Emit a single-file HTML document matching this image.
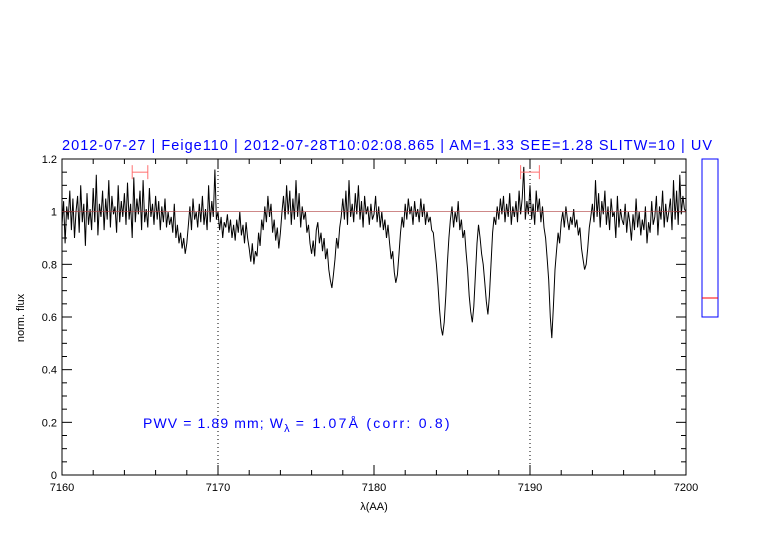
<!DOCTYPE html>
<html><head><meta charset="utf-8"><style>
body{margin:0;background:#fff;}
svg text{font-family:"Liberation Sans",sans-serif;}
</style></head><body>
<svg id="chart" width="782" height="542" xmlns="http://www.w3.org/2000/svg">
<text x="62" y="150" font-size="14.5" fill="#0000ff" textLength="650">2012-07-27 | Feige110 | 2012-07-28T10:02:08.865 | AM=1.33 SEE=1.28 SLITW=10 | UV</text>
<g id="axes"></g>
<g id="series"></g>
<text x="143" y="428" font-size="14" fill="#0000ff"><tspan textLength="140">PWV = 1.89 mm; W</tspan><tspan font-size="11" dy="4">λ</tspan><tspan dy="-4" textLength="160"> = 1.07Å (corr: 0.8)</tspan></text>
<text x="374" y="510" font-size="11" text-anchor="middle">λ(AA)</text>
<text x="24" y="318" font-size="11" text-anchor="middle" transform="rotate(-90 24 318)">norm. flux</text>
<rect x="702" y="159" width="16" height="158" fill="none" stroke="#0000ff" stroke-width="1"/>
<line x1="702" x2="718" y1="298" y2="298" stroke="#ff0000" stroke-width="1"/>
</svg>
<script>
const xTicks=[7160,7170,7180,7190,7200];
const yTicks=[0,0.2,0.4,0.6,0.8,1,1.2];
const yTickLabels=["0","0.2","0.4","0.6","0.8","1","1.2"];
const markerLines=[7170,7190];
const errorBars=[[7164.5,7165.5,1.15],[7189.4,7190.6,1.15]];
const waveStart=7160, waveStep=0.1;
const flux=[
0.95,1.04,0.88,1.02,0.97,1.08,0.93,1.05,0.90,1.00,
1.06,0.92,1.10,0.96,1.03,0.87,1.07,0.95,1.01,0.93,
1.09,0.96,1.14,0.91,1.03,0.98,1.08,0.93,1.05,0.97,
1.12,0.94,1.06,0.99,1.02,0.92,1.10,0.96,1.04,0.98,
1.07,0.95,1.11,0.97,1.03,0.90,1.13,0.96,1.05,0.99,
1.08,0.93,1.12,0.96,1.01,0.94,1.09,0.98,1.03,0.95,
1.06,0.97,1.04,0.93,1.02,0.96,1.05,0.94,1.00,0.95,
0.98,0.92,1.03,0.90,0.95,0.88,0.92,0.86,0.90,0.84,
0.88,0.95,1.02,0.93,1.05,0.97,1.00,0.94,1.03,0.96,
1.06,0.95,1.01,0.93,1.10,0.96,1.04,0.98,1.16,0.97,
1.00,0.93,0.98,0.90,0.96,0.94,0.99,0.92,0.97,0.90,
0.95,0.89,0.97,0.92,1.00,0.91,0.95,0.88,0.96,0.90,
0.86,0.81,0.88,0.80,0.85,0.83,0.92,0.87,0.97,0.93,
1.02,0.96,1.06,0.98,1.03,0.92,0.97,0.89,0.94,0.86,
0.92,1.00,1.06,0.97,1.10,0.99,1.08,0.95,1.05,0.97,
1.12,0.98,1.07,0.94,1.02,0.97,1.00,0.92,0.95,0.88,
0.84,0.89,0.83,0.93,0.96,0.88,0.92,0.85,0.90,0.82,
0.86,0.78,0.74,0.71,0.76,0.82,0.90,0.86,0.94,0.98,
1.05,0.97,1.08,0.95,1.12,0.98,1.03,0.96,1.07,0.99,
1.10,0.97,1.04,0.94,1.06,0.99,1.02,0.95,1.03,0.97,
0.99,1.06,0.96,1.02,0.94,1.00,0.93,0.97,0.90,0.95,
0.88,0.82,0.85,0.77,0.73,0.76,0.84,0.92,0.98,0.94,
1.03,0.97,1.05,0.99,1.02,0.95,1.04,0.98,1.01,0.96,
1.05,0.98,1.03,0.95,1.00,0.96,0.98,0.93,0.92,0.86,
0.80,0.72,0.63,0.56,0.53,0.58,0.68,0.80,0.90,0.97,
1.02,0.94,1.00,0.96,1.04,0.93,0.97,0.90,0.93,0.85,
0.78,0.68,0.62,0.58,0.64,0.76,0.88,0.95,0.90,0.84,
0.80,0.73,0.66,0.61,0.68,0.80,0.92,0.98,0.95,1.02,
0.97,1.05,0.99,1.06,0.96,1.03,0.98,1.07,0.95,1.02,
0.98,1.04,0.96,1.08,0.99,1.05,1.17,0.97,1.04,0.99,
1.10,0.97,1.03,0.95,1.08,1.00,1.05,0.96,1.02,0.94,
0.90,0.82,0.74,0.60,0.52,0.64,0.78,0.85,0.92,0.88,
0.96,1.00,0.94,1.02,0.97,0.93,0.98,0.95,1.01,0.94,
0.97,0.91,0.94,0.86,0.82,0.78,0.80,0.86,0.94,0.98,
1.03,0.96,1.12,0.98,1.07,0.94,1.04,0.99,1.08,0.95,
1.02,0.93,1.05,0.98,1.00,0.90,1.06,0.94,1.01,0.97,
0.95,1.03,0.92,1.00,0.96,0.89,0.99,0.93,1.05,0.94,
1.00,0.91,0.97,0.93,1.02,0.88,0.96,0.92,1.04,0.95,
0.98,1.06,0.91,1.02,0.97,1.08,0.94,1.03,0.96,1.00,
1.05,0.93,1.12,0.97,1.08,0.95,1.14,0.99,1.06,1.01,
1.00];
const L=62,R=686,T=159,B=475;
const xS=v=>L+(v-7160)/(7200-7160)*(R-L);
const yS=v=>B-v/1.2*(B-T);
const NS="http://www.w3.org/2000/svg";
const ax=document.getElementById('axes');
const se=document.getElementById('series');
function mk(p,tag,attrs){const e=document.createElementNS(NS,tag);for(const k in attrs)e.setAttribute(k,attrs[k]);p.appendChild(e);return e;}
const frame=mk(ax,'rect',{x:L,y:T,width:R-L,height:B-T,fill:'none',stroke:'#000','stroke-width':1});


for(let v=7160;v<=7200;v+=2){
 const x=xS(v);const len=(v%10===0)?10:5;
 const t=mk(ax,'line',{x1:x,x2:x,y1:B,y2:B-len,stroke:'#000'});
 
 
 mk(ax,'line',{x1:x,x2:x,y1:T,y2:T+len,stroke:'#000'});
}
xTicks.forEach(v=>{
 const t=mk(ax,'text',{x:xS(v),y:B+16,'font-size':11,'text-anchor':'middle'});
 t.textContent=v;
 
 
});
for(let i=0;i<=24;i++){
 const y=yS(i*0.05);const len=(i%4===0)?10:5;
 const t=mk(ax,'line',{x1:L,x2:L+len,y1:y,y2:y,stroke:'#000'});
 
 
 mk(ax,'line',{x1:R,x2:R-len,y1:y,y2:y,stroke:'#000'});
}
yTicks.forEach((v,i)=>{
 const t=mk(ax,'text',{x:L-5,y:yS(v)+4,'font-size':11,'text-anchor':'end'});
 t.textContent=yTickLabels[i];
 
 
});
markerLines.forEach(v=>{
 const l=mk(ax,'line',{x1:xS(v),x2:xS(v),y1:T,y2:B,stroke:'#000','stroke-dasharray':'1,3'});
 
 
});
const pts=flux.map((v,i)=>xS(waveStart+i*waveStep).toFixed(1)+','+yS(v).toFixed(1)).join(' ');
const pl=mk(se,'polyline',{points:pts,fill:'none',stroke:'#000','stroke-width':1});


const cl=mk(se,'line',{x1:L,x2:R,y1:yS(1),y2:yS(1),stroke:'#b04040','stroke-width':0.7});


errorBars.forEach(e=>{
 const g=mk(se,'g',{stroke:'#ff7070','stroke-width':1});
 
 
 const y=yS(e[2]);
 mk(g,'line',{x1:xS(e[0]),x2:xS(e[1]),y1:y,y2:y});
 mk(g,'line',{x1:xS(e[0]),x2:xS(e[0]),y1:y-7,y2:y+7});
 mk(g,'line',{x1:xS(e[1]),x2:xS(e[1]),y1:y-7,y2:y+7});
});
</script>
</body></html>
